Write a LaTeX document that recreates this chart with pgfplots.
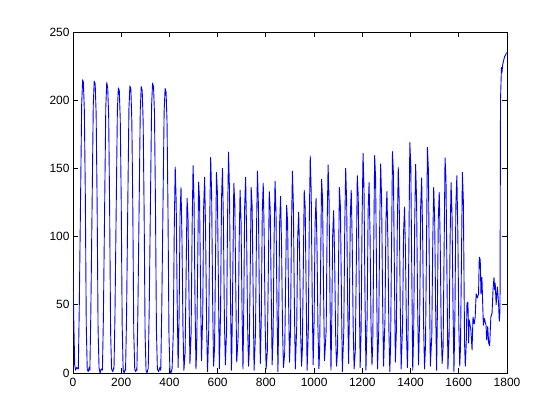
\documentclass[border=0pt]{standalone}
\usepackage{fontspec}
\setmainfont{Liberation Sans}
\usepackage{pgfplots}
\pgfplotsset{compat=1.18}
\begin{document}
\begin{tikzpicture}
\begin{axis}[
  name=ax,
  scale only axis,
  width=434bp, height=341bp,
  xmin=0, xmax=1800, ymin=0, ymax=250,
  xtick={0,200,...,1800}, ytick={0,50,...,250},
  tick align=inside, xtick pos=both, ytick pos=both,
  major tick length=5bp,
  axis line style={black, line width=0.8pt},
  every tick/.style={black, line width=0.8pt},
  tick label style={font=\fontsize{12}{14}\selectfont},
  /pgf/number format/assume math mode=true,
  /pgf/number format/set thousands separator={},
  xticklabel style={yshift=-2bp},
  clip=true,
]
\addplot[color={rgb,1:red,0;green,0;blue,1}, line width=0.9pt, line join=round] coordinates {
(0,74)(3,41)(7,6)(11,2)(15,4)
(22,3)(26,48)(31,122)(36,197)(40,215)(43,213)(47,193)(51,132)(55,35)(59,3)(63,1)(67,4)
(70,2)(74,45)(79,120)(84,196)(88,214)(92,212)(96,190)(100,125)(104,32)(108,4)(112,0)(117,3)
(122,2)(126,40)(131,118)(136,195)(140,213)(144,209)(148,188)(152,120)(156,30)(160,3)(165,1)(169,4)
(170,3)(174,42)(179,118)(184,192)(188,209)(192,207)(196,186)(200,126)(204,35)(208,2)(212,0)(217,3)
(218,2)(222,40)(227,120)(232,194)(236,210.5)(240,208)(244,185)(248,122)(252,30)(256,3)(260,1)(264,3)
(265,2)(269,44)(274,118)(279,193)(283,210)(287,207)(291,184)(295,118)(299,28)(303,2)(307,0)(311,3)
(312,3)(316,46)(321,122)(326,196)(330,212.5)(334,210)(338,190)(342,124)(346,32)(350,3)(355,1)(360,4)
(364,2)(368,45)(373,120)(378,192)(382,208.6)(386,206)(390,184)(394,118)(398,28)(402,2)(406,0)(411,3)
(416,30)(420,106)(424,151)(428,125)(432,53)(436,4)
(440,41)(444,116)(448,136)(452,98)(456,34)(460,2)
(465,15)(469,70)(473,128)(477,115)(481,58)(485,7)
(490,30)(494,106)(498,152)(502,126)(506,53)(510,3)
(513,17)(517,77)(521,140)(525,126)(529,63)(533,9)
(538,43)(542,122)(546,143.5)(550,103)(554,36)(558,1)
(563,32)(567,111)(571,158)(575,131)(579,55)(583,5)
(587,18)(591,81)(595,147)(599,132)(603,66)(607,3)
(612,45)(616,128)(620,150)(624,108)(628,38)(632,6)
(637,32)(641,113)(645,162)(649,134)(653,57)(657,2)
(659,17)(663,76)(667,139)(671,125)(675,63)(679,8)
(685,27)(689,94)(693,134)(697,111)(701,47)(705,3)
(708,43)(712,122)(716,143.5)(720,103)(724,36)(728,5)
(731,16)(735,75)(739,136)(743,122)(747,61)(751,2)
(757,30)(761,104)(765,148)(769,123)(773,52)(777,7)
(781,42)(785,118)(789,139)(793,100)(797,35)(801,3)
(806,16)(810,73)(814,133)(818,120)(822,60)(826,6)
(830,28)(834,98)(838,140.5)(842,117)(846,49)(850,1)
(853,39)(857,110)(861,129.5)(865,93)(869,32)(873,4)
(878,15)(882,68)(886,123)(890,111)(894,55)(898,8)
(902,30)(906,104)(910,148)(914,123)(918,52)(922,3)
(928,35)(932,100)(936,118)(940,85)(944,30)(948,5)
(951,16)(955,74)(959,134)(963,121)(967,60)(971,2)
(976,32)(980,111)(984,159)(988,132)(992,56)(996,6)
(1000,38)(1004,109)(1008,128)(1012,92)(1016,32)(1020,3)
(1023,17)(1027,78)(1031,142)(1035,128)(1039,64)(1043,9)
(1050,31)(1054,107)(1058,152.6)(1062,127)(1066,53)(1070,2)
(1073,36)(1077,101)(1081,119)(1085,86)(1089,30)(1093,5)
(1097,16)(1101,75)(1105,136)(1109,122)(1113,61)(1117,1)
(1123,30)(1127,105)(1131,150)(1135,125)(1139,53)(1143,7)
(1146,40)(1150,114)(1154,134)(1158,96)(1162,34)(1166,3)
(1171,17)(1175,80)(1179,144.7)(1183,130)(1187,65)(1191,4)
(1195,32)(1199,113)(1203,161)(1207,134)(1211,56)(1215,2)
(1220,42)(1224,119)(1228,139.6)(1232,101)(1236,35)(1240,6)
(1243,19)(1247,88)(1251,159.4)(1255,143)(1259,72)(1263,3)
(1268,31)(1272,107)(1276,153.3)(1280,127)(1284,54)(1288,5)
(1294,40)(1298,113)(1302,133)(1306,96)(1310,33)(1314,1)
(1317,19)(1321,89)(1325,162.3)(1329,146)(1333,73)(1337,8)
(1341,30)(1345,105)(1349,150.6)(1353,125)(1357,53)(1361,3)
(1367,36)(1371,103)(1375,121.6)(1379,88)(1383,30)(1387,4)
(1389,20)(1393,93)(1397,169)(1401,152)(1405,76)(1409,2)
(1413,31)(1417,107)(1421,153)(1425,127)(1429,54)(1433,6)
(1438,43)(1442,122)(1446,143)(1450,103)(1454,36)(1458,3)
(1462,20)(1466,91)(1470,165.4)(1474,149)(1478,74)(1482,5)
(1488,27)(1492,95)(1496,136)(1500,113)(1504,48)(1508,2)
(1511,40)(1515,113)(1519,132.5)(1523,95)(1527,33)(1531,7)
(1535,19)(1539,87)(1543,157.7)(1547,142)(1551,71)(1555,3)
(1560,28)(1564,98)(1568,139.6)(1572,116)(1576,49)(1580,1)
(1584,43)(1588,123)(1592,144.7)(1596,104)(1600,36)(1604,5)
(1607,18)(1611,81)(1615,147)(1619,126)(1624,22)(1627,5)
(1631,22)(1634,51)(1638,52)(1641,22)(1643,39)(1650,32)(1655,17)(1659,41)(1664,36)(1668,41)
(1672,58)(1677,55)(1682,58)(1685,85)(1689,83)(1692,58)(1696,70)(1699,52)(1702,35)(1706,40)
(1713,35)(1716,24)(1720,34)(1724,22)(1728,20)(1733,41)(1738,44)(1742,61)(1746,70)(1749,61)
(1751,66)(1755,50)(1760,63)(1765,51)(1768,38)(1771,45)(1773,200)(1777,224)(1779,220)(1782,226)
(1786,229)(1790,232)(1794,233)(1798,235)
};
\coordinate (bl) at (rel axis cs:0,0);
\coordinate (tr) at (rel axis cs:1,1);
\end{axis}
\path ([shift={(-73bp,-47bp)}]bl) rectangle ([shift={(53bp,32bp)}]tr);
\end{tikzpicture}
\end{document}
